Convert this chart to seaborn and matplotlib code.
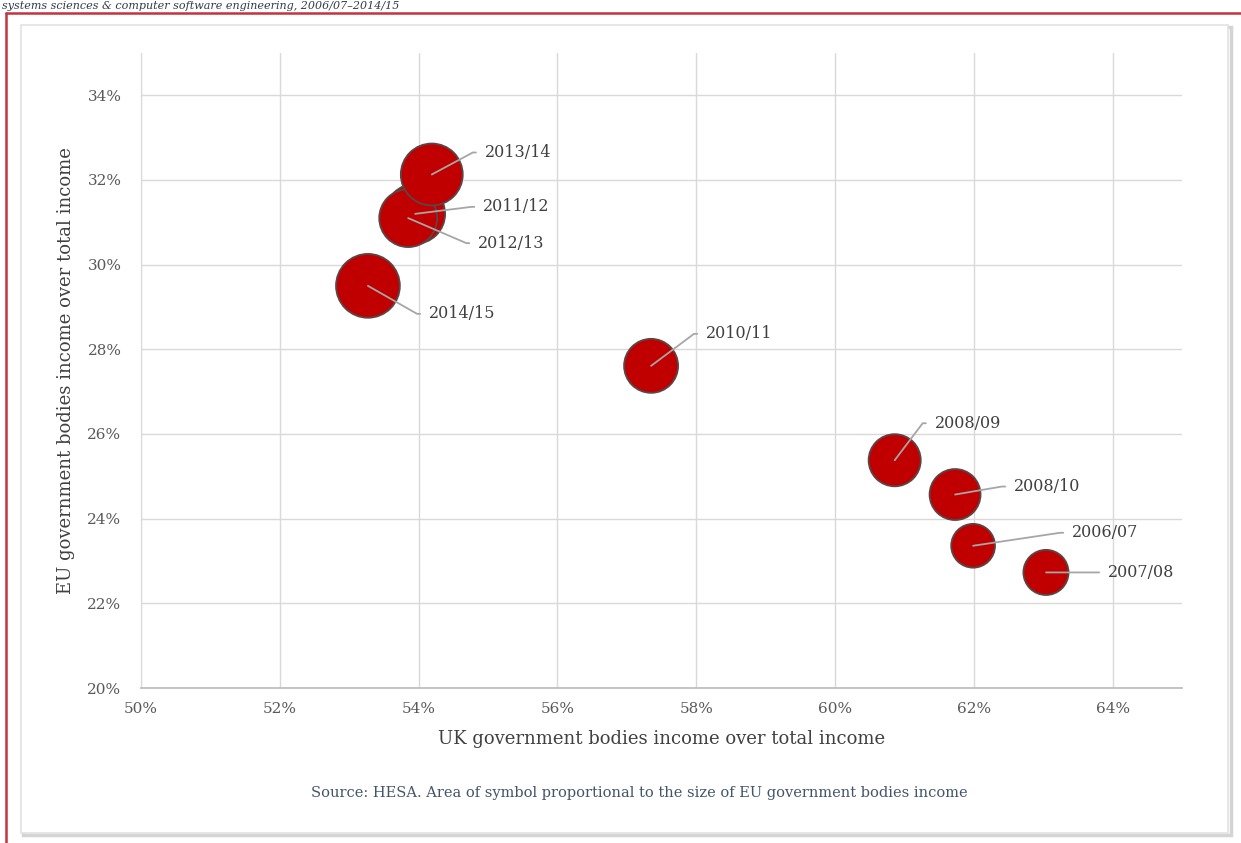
import math
import matplotlib.pyplot as plt
import seaborn as sns
import pandas as pd
from matplotlib.lines import Line2D
from matplotlib.patches import Rectangle
from matplotlib.ticker import PercentFormatter

# data
years = ["2006/07", "2007/08", "2008/09", "2008/10", "2010/11",
         "2011/12", "2012/13", "2013/14", "2014/15"]
uk_share = [0.6199, 0.6304, 0.6086, 0.6173, 0.5735, 0.5395, 0.5385, 0.5419, 0.5327]
eu_share = [0.2336, 0.2273, 0.2538, 0.2457, 0.2761, 0.3120, 0.3110, 0.3213, 0.2950]
eu_income = [48, 51, 68, 65, 73, 90, 84, 96, 102]  # relative size, area of symbol

# label placement: offset of the label start from the bubble centre (pixels, y down)
label_dx = [99, 62, 40, 59, 55, 68, 70, 53, 61]
label_dy = [-13, 0, -37, -8, -32, -7, 25, -22, 28]

x_ticks = [0.50, 0.52, 0.54, 0.56, 0.58, 0.60, 0.62, 0.64]
y_ticks = [0.20, 0.22, 0.24, 0.26, 0.28, 0.30, 0.32, 0.34]

sns.set_style("white")
plt.rcParams["font.family"] = ["DejaVu Serif"]

W, H = 1241, 843
fig = plt.figure(figsize=(W / 100, H / 100), dpi=100)
ax = fig.add_axes([141 / W, 1 - 688 / H, (1182 - 141) / W, (688 - 53) / H])

df = pd.DataFrame({"year": years, "uk": uk_share, "eu": eu_share, "income": eu_income})
size_map = {v: v * 20.7 for v in eu_income}
sns.scatterplot(data=df, x="uk", y="eu", size="income", sizes=size_map,
                color="#c00000", edgecolor="#5a4646", linewidth=1.3,
                alpha=1, legend=False, ax=ax, zorder=2)

pt = 0.72  # points per pixel at dpi 100
for i, yr in enumerate(years):
    dx, dy = label_dx[i], label_dy[i]
    if dy == 0:
        cstyle = "arc3,rad=0"
    else:
        ang = math.degrees(math.atan2(-dy, dx - 12))
        cstyle = f"angle,angleA=0,angleB={ang:.1f},rad=0"
    ax.annotate(yr, xy=(uk_share[i], eu_share[i]),
                xytext=(dx * pt, -dy * pt), textcoords="offset points",
                ha="left", va="center", fontsize=11.5, color="#404040",
                arrowprops=dict(arrowstyle="-", color="#a6a6a6", lw=1.3,
                                shrinkA=4, shrinkB=0, relpos=(0, 0.5),
                                connectionstyle=cstyle),
                zorder=3)

ax.set_xlim(0.50, 0.65)
ax.set_ylim(0.20, 0.35)
ax.set_xticks(x_ticks)
ax.set_yticks(y_ticks)
ax.xaxis.set_major_formatter(PercentFormatter(1.0, decimals=0))
ax.yaxis.set_major_formatter(PercentFormatter(1.0, decimals=0))
ax.tick_params(axis="both", length=0, labelsize=11, labelcolor="#595959")
ax.tick_params(axis="x", pad=10)
ax.tick_params(axis="y", pad=14)
ax.grid(True, color="#d9d9d9", lw=1)
ax.set_axisbelow(True)
for s in ["top", "right"]:
    ax.spines[s].set_visible(False)
ax.spines["left"].set_color("#d9d9d9")
ax.spines["bottom"].set_color("#bfbfbf")
ax.spines["bottom"].set_linewidth(1.3)

ax.set_xlabel("UK government bodies income over total income",
              fontsize=13, color="#404040", labelpad=10)
ax.set_ylabel("EU government bodies income over total income",
              fontsize=13, color="#404040", labelpad=9)

fig.text(639 / W, 1 - 793 / H,
         "Source: HESA. Area of symbol proportional to the size of EU government bodies income",
         ha="center", va="center", fontsize=10.5, color="#44546a")

# frame: inner grey box with shadow, red outer border, title above it
fig.add_artist(Rectangle((23 / W, 1 - 835 / H), (1208 / W), (808 / H),
                         transform=fig.transFigure, fill=False,
                         edgecolor="#d4d4d4", lw=2.5, zorder=0))
fig.add_artist(Rectangle((21 / W, 1 - 833 / H), (1207 / W), (808 / H),
                         transform=fig.transFigure, facecolor="white",
                         edgecolor="#e2e2e2", lw=1.2, zorder=0))
fig.add_artist(Line2D([6 / W, 1], [1 - 13 / H, 1 - 13 / H],
                      transform=fig.transFigure, color="#c4323f", lw=1.8))
fig.add_artist(Line2D([6 / W, 6 / W], [0, 1 - 13 / H],
                      transform=fig.transFigure, color="#c4323f", lw=1.8))
fig.text(2 / W, 1 - 1 / H,
         "systems sciences & computer software engineering, 2006/07–2014/15",
         ha="left", va="top", fontsize=8, style="italic", color="#2f3b4c")

fig.savefig("out.png", dpi=100)
